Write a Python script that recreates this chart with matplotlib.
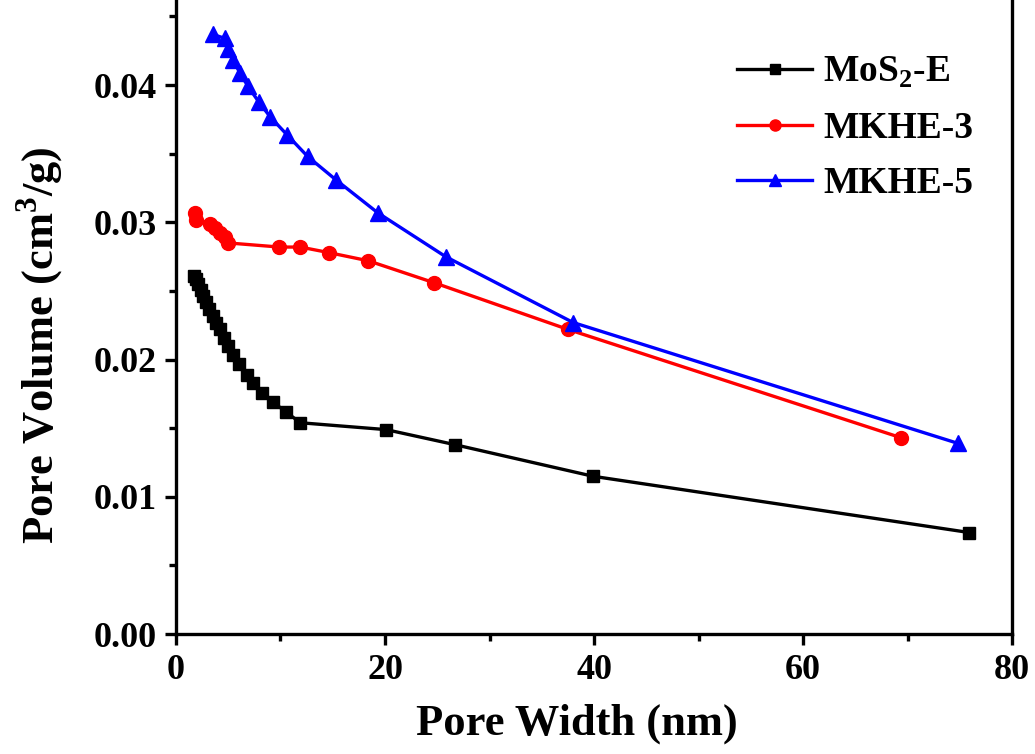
import numpy as np
import matplotlib
matplotlib.use("Agg")
import matplotlib.pyplot as plt
from matplotlib.ticker import MultipleLocator

# pore width (nm) / pore volume (cm3/g)
mos2_x = [1.7, 1.9, 2.1, 2.4, 2.6, 2.9, 3.2, 3.5, 3.8, 4.2, 4.6, 5.0, 5.5,
          6.0, 6.8, 7.4, 8.2, 9.3, 10.5, 11.9, 20.1, 26.7, 39.9, 75.9]
mos2_y = [0.0261, 0.0259, 0.0255, 0.0251, 0.0246, 0.0242, 0.0237, 0.0232,
          0.0227, 0.0222, 0.0216, 0.0210, 0.0203, 0.0197, 0.0189, 0.0183,
          0.0176, 0.0169, 0.0162, 0.0154, 0.0149, 0.0138, 0.0115, 0.0074]

mkhe3_x = [1.8, 1.9, 3.3, 3.7, 4.2, 4.7, 5.0, 9.9, 11.9, 14.6, 18.4, 24.7,
           37.5, 69.4]
mkhe3_y = [0.0307, 0.0302, 0.0299, 0.0296, 0.0292, 0.0289, 0.0285, 0.0282,
           0.0282, 0.0278, 0.0272, 0.0256, 0.0222, 0.0143]

mkhe5_x = [3.5, 4.7, 5.0, 5.5, 6.1, 6.9, 7.9, 9.0, 10.6, 12.6, 15.3, 19.3,
           25.8, 38.0, 74.8]
mkhe5_y = [0.0437, 0.0434, 0.0426, 0.0418, 0.0409, 0.0399, 0.0388, 0.0377,
           0.0364, 0.0348, 0.0331, 0.0307, 0.0275, 0.0227, 0.0139]

plt.rcParams['font.family'] = ['Liberation Serif', 'DejaVu Serif']
plt.rcParams['font.weight'] = 'bold'
plt.rcParams['mathtext.fontset'] = 'custom'
plt.rcParams['mathtext.rm'] = 'Liberation Serif:bold'
plt.rcParams['mathtext.bf'] = 'Liberation Serif:bold'

fig = plt.figure(figsize=(10.35, 7.54), dpi=100)
ax = fig.add_axes([0.170, 0.159, 0.808, 0.841])

ax.plot(mos2_x, mos2_y, color='black', marker='s', markersize=9, lw=2.4,
        label=r'MoS$_\mathrm{2}$-E')
ax.plot(mkhe3_x, mkhe3_y, color='red', marker='o', markersize=10, lw=2.4,
        label='MKHE-3')
ax.plot(mkhe5_x, mkhe5_y, color='blue', marker='^', markersize=11, lw=2.4,
        label='MKHE-5')

ax.set_xlim(0, 80)
ax.set_ylim(0, 0.0462)
ax.xaxis.set_major_locator(MultipleLocator(20))
ax.xaxis.set_minor_locator(MultipleLocator(10))
ax.yaxis.set_major_locator(MultipleLocator(0.01))
ax.yaxis.set_minor_locator(MultipleLocator(0.005))
ax.yaxis.set_major_formatter(plt.FormatStrFormatter('%.2f'))

for s in ax.spines.values():
    s.set_linewidth(2.4)
ax.spines['top'].set_visible(False)
ax.tick_params(which='major', direction='out', length=8, width=2.4,
               labelsize=26, pad=6)
ax.tick_params(which='minor', direction='out', length=5, width=2.4)

ax.set_xlabel('Pore Width (nm)', fontsize=32, fontweight='bold')
ax.set_ylabel(r'Pore Volume (cm$^\mathrm{3}$/g)', fontsize=32,
              fontweight='bold')
ax.xaxis.set_label_coords(0.48, -0.11)
ax.yaxis.set_label_coords(-0.132, 0.455)

leg = ax.legend(loc='upper right', frameon=False, fontsize=27,
                handlelength=2.0, handletextpad=0.3, borderaxespad=0.3,
                labelspacing=0.55, markerscale=0.8,
                bbox_to_anchor=(0.985, 0.955))

fig.savefig('out.png', dpi=100)
